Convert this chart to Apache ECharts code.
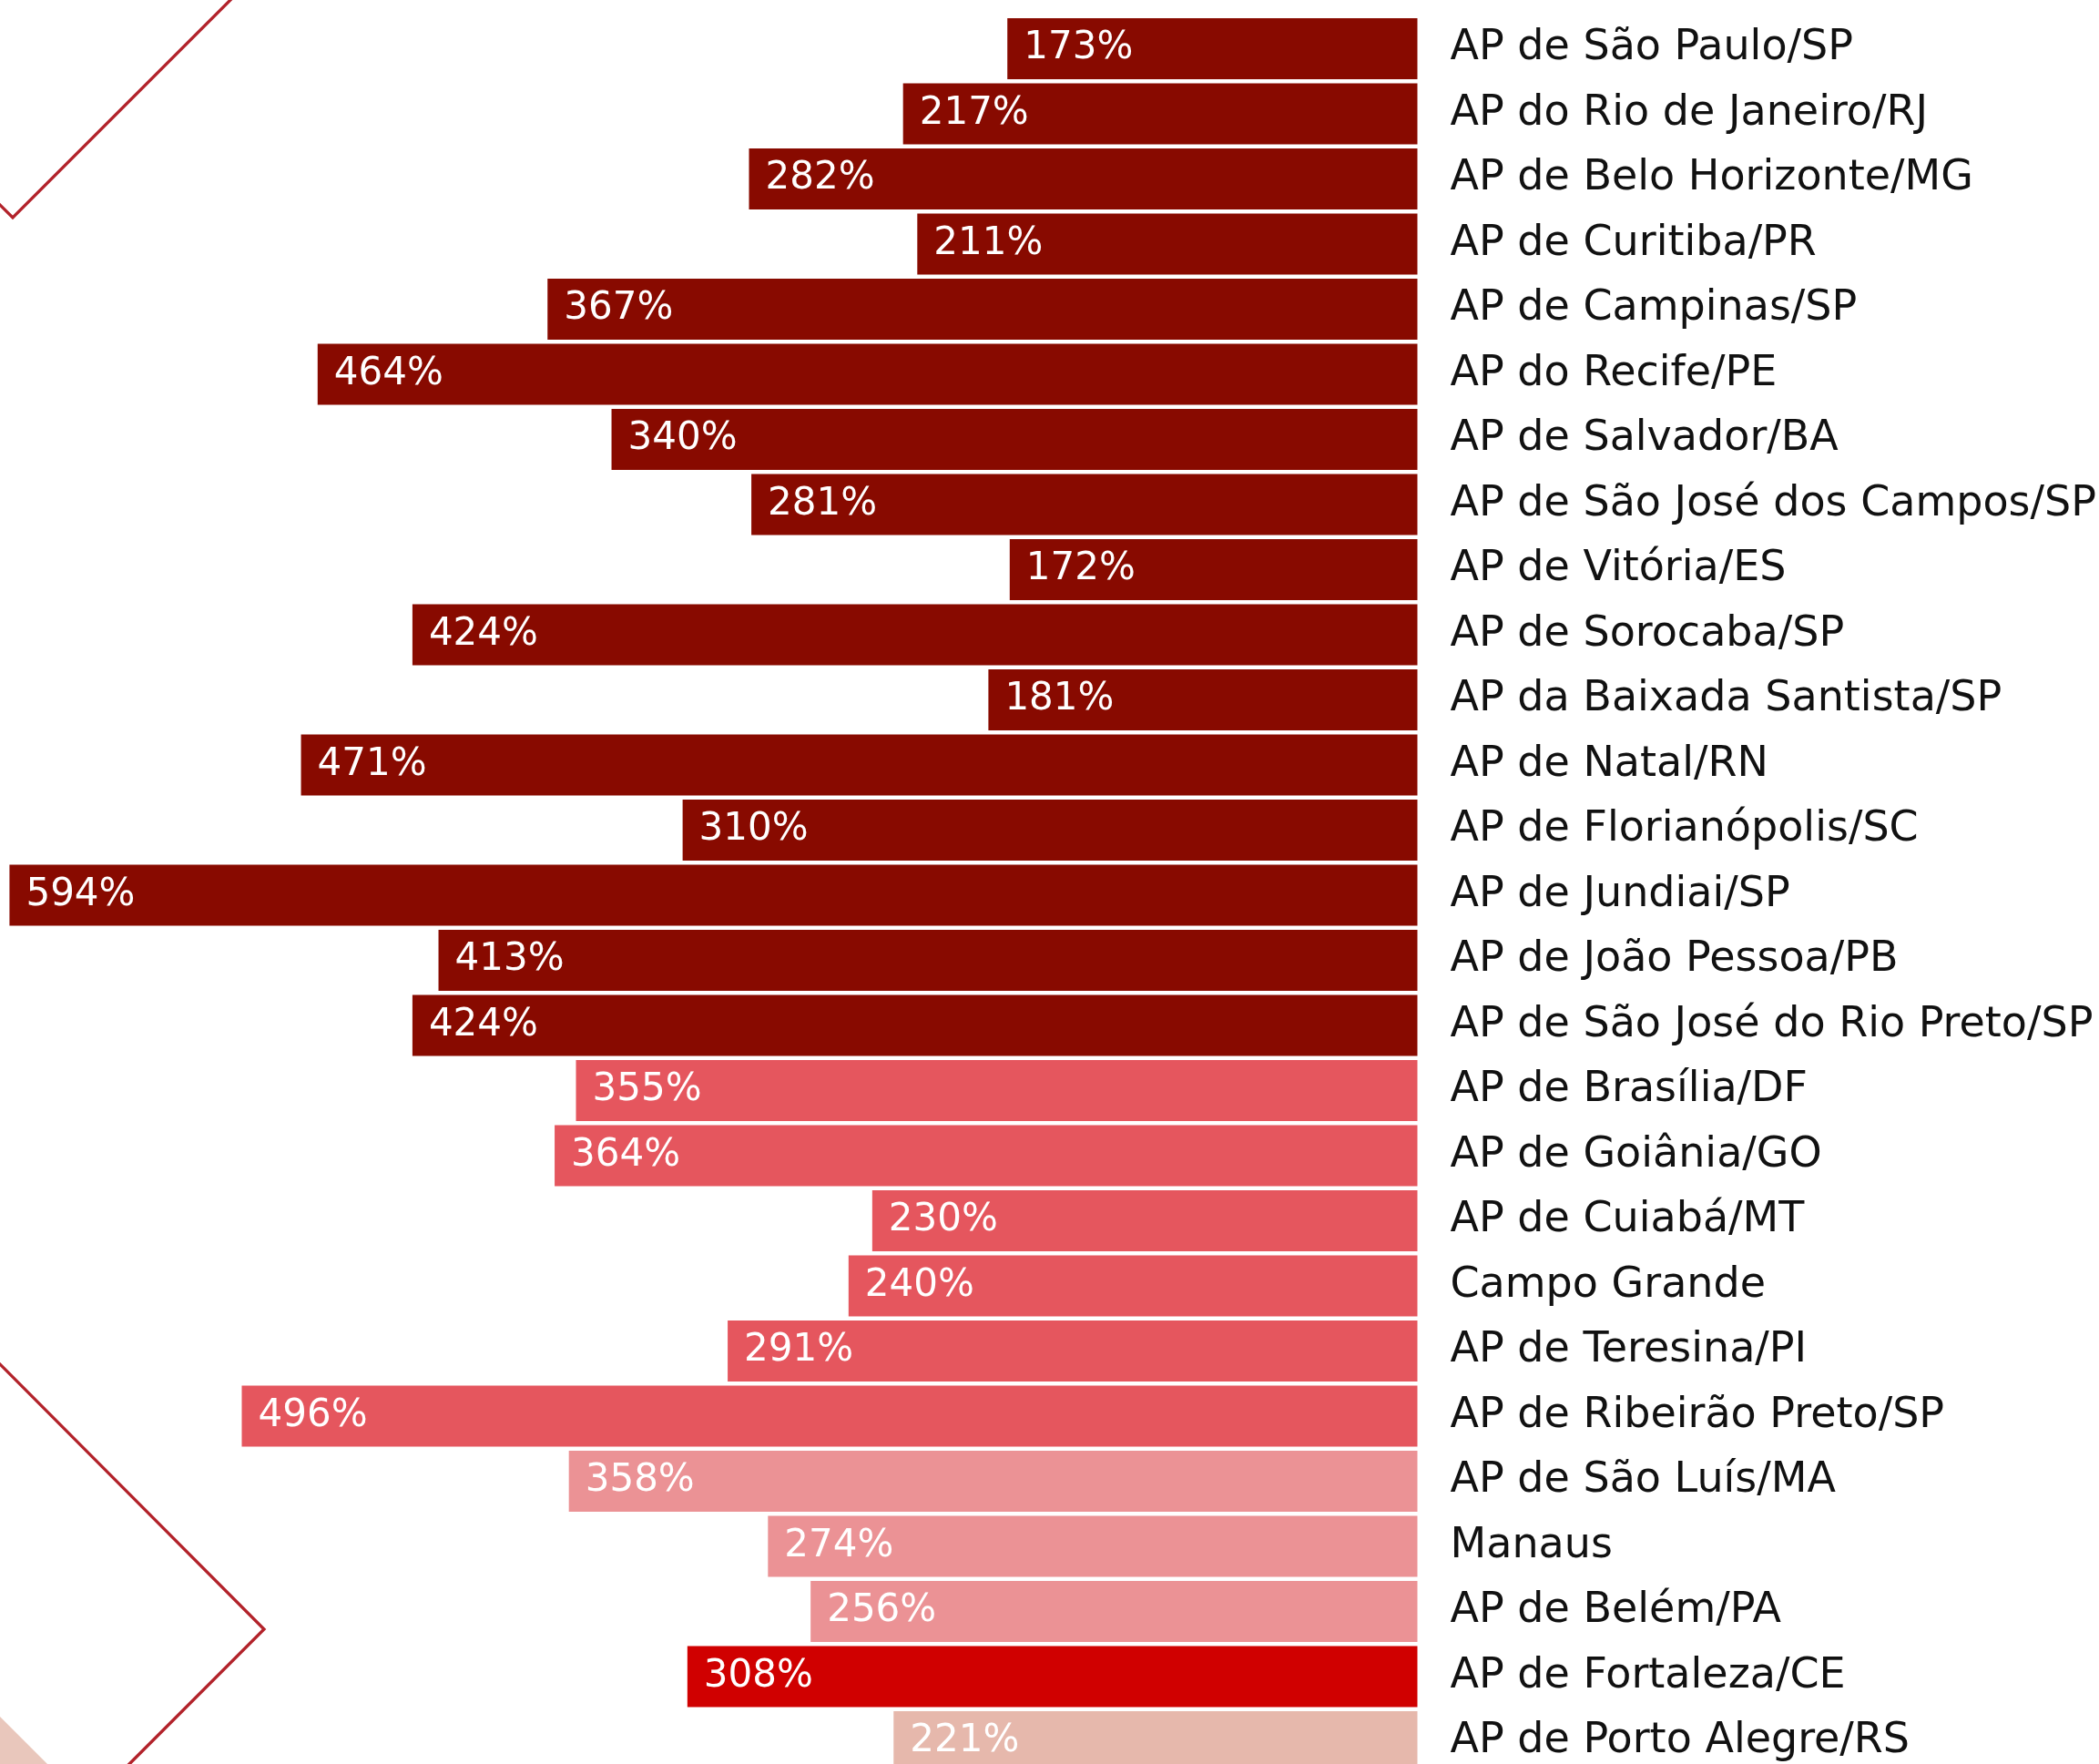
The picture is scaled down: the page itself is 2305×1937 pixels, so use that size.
<!DOCTYPE html>
<html>
<head>
<meta charset="utf-8">
<style>
  html, body { margin: 0; padding: 0; background: #ffffff; overflow: hidden; }
  #chart { width: 2305px; height: 1970px; }
</style>
<script src="https://cdn.jsdelivr.net/npm/echarts@6/dist/echarts.min.js"></script>
</head>
<body>
<div id="chart"></div>
<script>
// Áreas de ponderação (AP) e variação percentual
const categories = [
  'AP de São Paulo/SP',
  'AP do Rio de Janeiro/RJ',
  'AP de Belo Horizonte/MG',
  'AP de Curitiba/PR',
  'AP de Campinas/SP',
  'AP do Recife/PE',
  'AP de Salvador/BA',
  'AP de São José dos Campos/SP',
  'AP de Vitória/ES',
  'AP de Sorocaba/SP',
  'AP da Baixada Santista/SP',
  'AP de Natal/RN',
  'AP de Florianópolis/SC',
  'AP de Jundiai/SP',
  'AP de João Pessoa/PB',
  'AP de São José do Rio Preto/SP',
  'AP de Brasília/DF',
  'AP de Goiânia/GO',
  'AP de Cuiabá/MT',
  'Campo Grande',
  'AP de Teresina/PI',
  'AP de Ribeirão Preto/SP',
  'AP de São Luís/MA',
  'Manaus',
  'AP de Belém/PA',
  'AP de Fortaleza/CE',
  'AP de Porto Alegre/RS'
];

const values = [
  173, 217, 282, 211, 367, 464, 340, 281, 172, 424, 181, 471, 310, 594,
  413, 424, 355, 364, 230, 240, 291, 496, 358, 274, 256, 308, 221
];

// Cores por faixa de linhas
function barColor(i) {
  if (i <= 15) return '#880A00';
  if (i <= 21) return '#E5565E';
  if (i <= 24) return '#EB9295';
  if (i === 25) return '#D00000';
  return '#E6B8AC';
}

const chart = echarts.init(document.getElementById('chart'), null, { renderer: 'canvas' });

const FONT = '"DejaVu Sans", "Open Sans", sans-serif';

chart.setOption({
  animation: false,
  backgroundColor: '#ffffff',
  grid: { left: 0, right: 745, top: 17.75, height: 1930.5, containLabel: false },
  xAxis: {
    type: 'value',
    inverse: true,
    min: 0,
    max: 598,
    show: false
  },
  yAxis: {
    type: 'category',
    inverse: true,
    position: 'right',
    data: categories,
    axisLine: { show: false },
    axisTick: { show: false },
    splitLine: { show: false },
    axisLabel: {
      margin: 36,
      align: 'left',
      color: '#111111',
      fontFamily: FONT,
      fontSize: 46
    }
  },
  graphic: [
    {
      type: 'polyline',
      z: 0,
      shape: { points: [[258, -5], [14, 239], [-2, 223]] },
      style: { stroke: '#B2222A', lineWidth: 3.3, fill: null }
    },
    {
      type: 'polyline',
      z: 0,
      shape: { points: [[-2, 1496], [290, 1789], [138, 1941]] },
      style: { stroke: '#B2222A', lineWidth: 3.3, fill: null }
    },
    {
      type: 'polygon',
      z: 0,
      shape: { points: [[0, 1885], [52, 1937], [0, 1937]] },
      style: { fill: '#E9C7BC' }
    }
  ],
  series: [{
    type: 'bar',
    data: values.map((v, i) => ({ value: v, itemStyle: { color: barColor(i) } })),
    barWidth: 67,
    label: {
      show: true,
      position: 'insideLeft',
      distance: 18,
      color: '#ffffff',
      fontFamily: FONT,
      fontSize: 42,
      formatter: p => p.value + '%'
    }
  }]
});
</script>
</body>
</html>
